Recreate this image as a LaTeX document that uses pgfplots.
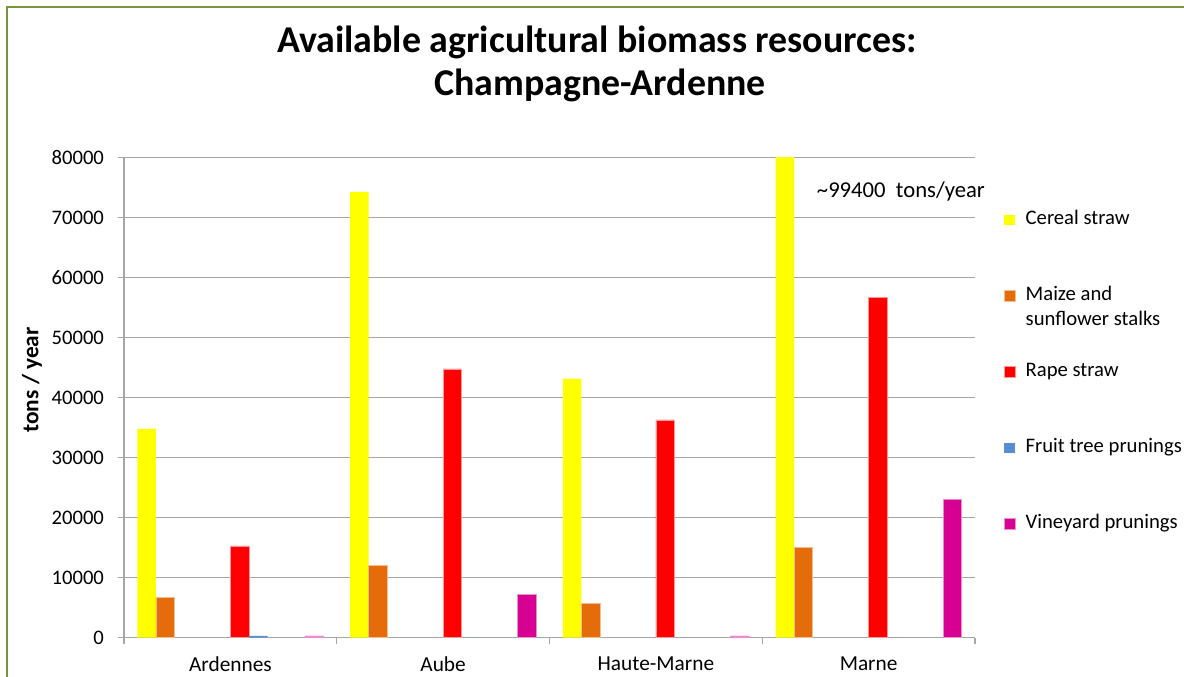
\documentclass[border=0pt]{standalone}
\usepackage{fontspec}
\setmainfont{Carlito}
\usepackage{pgfplots}
\pgfplotsset{compat=1.18}
\definecolor{cYel}{HTML}{FFFF00}
\definecolor{cOra}{HTML}{E46C0A}
\definecolor{cRed}{HTML}{FF0000}
\definecolor{cBlu}{HTML}{558ED5}
\definecolor{cMag}{HTML}{D60093}
\definecolor{gridc}{HTML}{A6A6A6}
\definecolor{framec}{HTML}{77933C}
\begin{document}
\begin{tikzpicture}[x=0.75pt,y=-0.75pt]
\useasboundingbox (0,0) rectangle (1184,677);
\fill[white] (0,0) rectangle (1184,677);
\fill[framec] (6,6) rectangle (8.2,677);
\fill[framec] (6,6) rectangle (1184,8.2);
\node[font=\bfseries\fontsize{28.4}{34}\selectfont, anchor=base] at (597,53) {Available agricultural biomass resources:};
\node[font=\bfseries\fontsize{28.4}{34}\selectfont, anchor=base] at (600,96) {Champagne-Ardenne};
\begin{axis}[
  at={(93pt,-478.275pt)}, anchor=south west,
  width=638.25pt, height=360pt, scale only axis,
  ybar, clip mode=individual,
  xmin=-0.5, xmax=3.5, ymin=0, ymax=80000,
  ytick={0,10000,...,80000},
  xtick={-0.5,0.5,1.5,2.5,3.5}, xticklabels={},
  extra x ticks={0,1,2,3},
  extra x tick labels={Ardennes,Aube,Haute-Marne,Marne},
  extra x tick style={major tick length=0pt, tick style={draw=none}},
  axis x line*=bottom, axis y line*=left,
  axis line style={gridc, line width=1.1pt, -},
  ymajorgrids, grid style={gridc, line width=1.1pt},
  tick style={gridc, line width=1.1pt},
  tick align=outside, major tick length=4.5pt,
  scaled y ticks=false,
  /pgf/number format/assume math mode=true,
  yticklabel style={font=\fontsize{15.5}{18}\selectfont, text=black, xshift=-7pt, /pgf/number format/.cd, fixed, set thousands separator={}},
  xticklabel style={font=\fontsize{16}{19}\selectfont, text=black, yshift=-11pt},
  ylabel={tons / year},
  every axis y label/.style={at={(axis description cs:-0.1081,0.537)}, anchor=center, rotate=90, font=\bfseries\fontsize{17.5}{20}\selectfont},
  legend image code/.code={\fill[#1] (0pt,-4.1pt) rectangle (8.25pt,4.1pt);},
  legend style={at={(1.0341,0.891)}, anchor=north west, draw=none, fill=none,
    inner sep=0pt, outer sep=0pt, row sep=42pt, column sep=7.5pt,
    font=\fontsize{15.5}{18.75}\selectfont,
    nodes={inner sep=0pt, text height=11pt, text depth=4pt},
    cells={anchor=west}},
]
\addplot[fill=cYel, draw=none, bar width=0.0875, bar shift=-0.39375] coordinates {(0,34800) (1,74300) (2,43200) (3,99400)};
\addlegendentry{Cereal straw}
\addplot[fill=cOra, draw=cOra!45!white, line width=0.5pt, bar width=0.0875, bar shift=-0.30625] coordinates {(0,6700) (1,12100) (2,5700) (3,15000)};
\addlegendentry{\smash{\parbox[t]{6cm}{Maize and\\sunflower stalks}}}
\addplot[fill=cRed, draw=cRed!40!white, line width=0.5pt, bar width=0.0875, bar shift=0.04375] coordinates {(0,15300) (1,44800) (2,36300) (3,56700)};
\addlegendentry{Rape straw}
\addplot[fill=cBlu, draw=none, bar width=0.0875, bar shift=0.13125] coordinates {(0,300) (1,0) (2,0) (3,0)};
\addlegendentry{Fruit tree prunings}
\addplot[fill=cMag, draw=cMag!45!white, line width=0.5pt, bar width=0.0875, bar shift=0.39375] coordinates {(0,300) (1,7200) (2,300) (3,23000)};
\addlegendentry{Vineyard prunings}
\node[anchor=base west, font=\fontsize{17}{20}\selectfont] at (axis cs:2.735,73450) {\textasciitilde99400\ \ tons/year};
\end{axis}
\end{tikzpicture}
\end{document}
